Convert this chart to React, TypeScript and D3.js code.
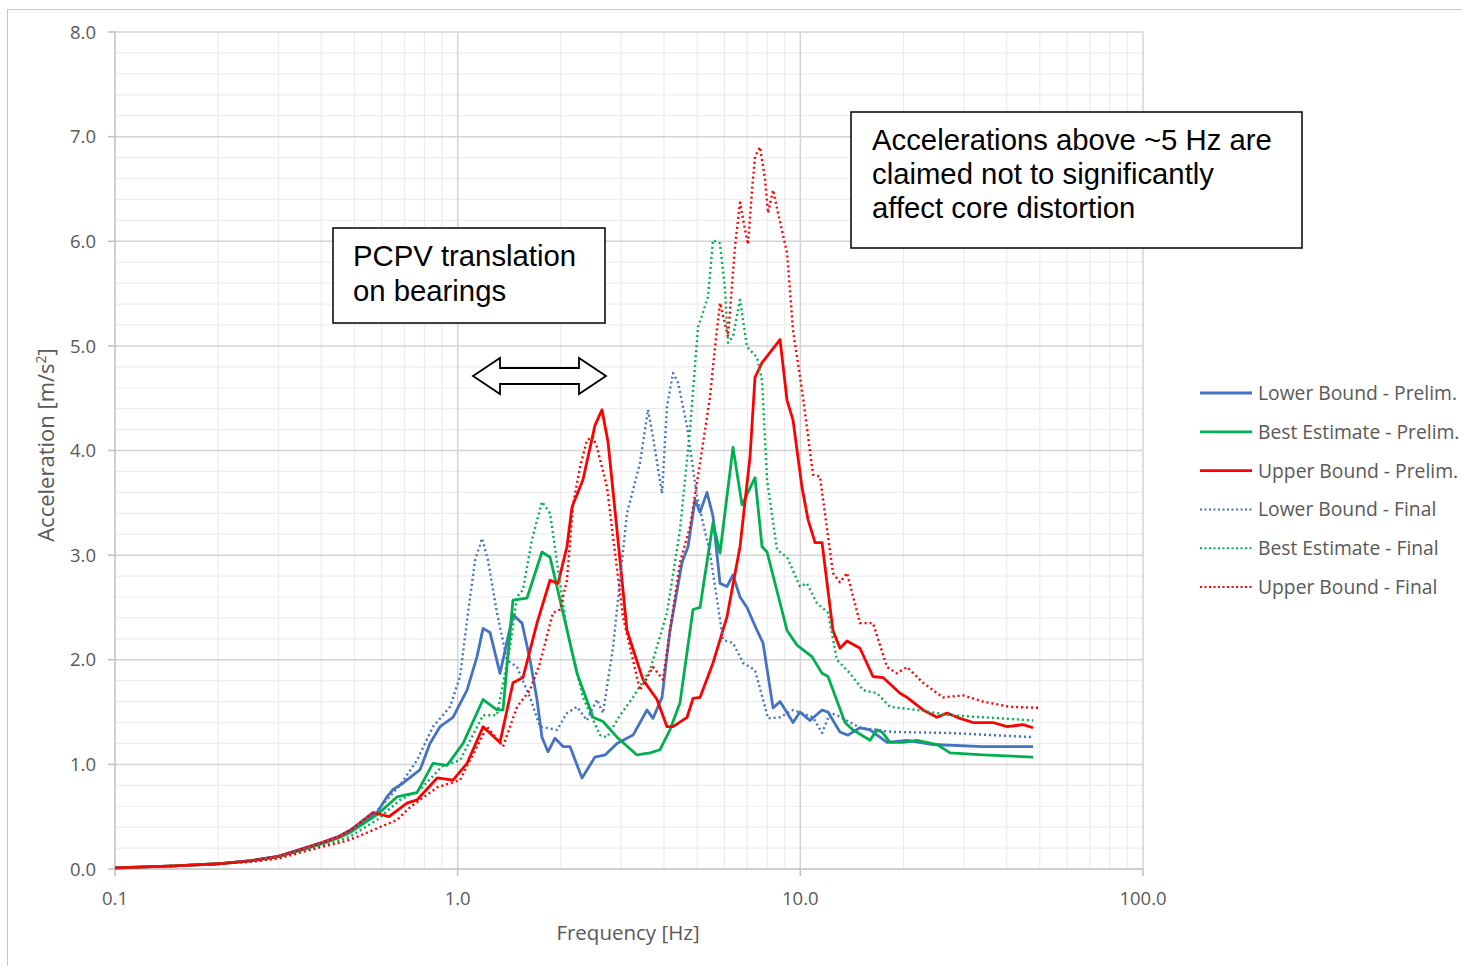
import React from "react";
import * as d3 from "d3";

type Pt = [number, number];

const lbPrelim: Pt[] = [
  [0.1, 0.01], [0.15, 0.03], [0.2, 0.05], [0.25, 0.08], [0.3, 0.12], [0.35, 0.19], [0.4, 0.25], [0.45, 0.31],
  [0.486, 0.37], [0.582, 0.54], [0.622, 0.69], [0.648, 0.76], [0.692, 0.82], [0.777, 0.95], [0.83, 1.2],
  [0.888, 1.36], [0.969, 1.45], [1.065, 1.71], [1.139, 2.03], [1.186, 2.3], [1.243, 2.26], [1.329, 1.87],
  [1.45, 2.43], [1.541, 2.35], [1.626, 2.0], [1.704, 1.62], [1.762, 1.26], [1.835, 1.12], [1.923, 1.25],
  [2.03, 1.17], [2.127, 1.17], [2.306, 0.87], [2.516, 1.07], [2.692, 1.09], [2.917, 1.2], [3.249, 1.28],
  [3.569, 1.52], [3.715, 1.44], [3.948, 1.64], [4.165, 2.28], [4.516, 2.93], [4.702, 3.08], [4.928, 3.53],
  [5.096, 3.41], [5.341, 3.6], [5.561, 3.37], [5.829, 2.73], [6.109, 2.7], [6.361, 2.81], [6.667, 2.6],
  [6.989, 2.5], [7.475, 2.28], [7.783, 2.16], [8.325, 1.54], [8.726, 1.6], [9.52, 1.4], [9.977, 1.5],
  [10.67, 1.42], [11.57, 1.52], [12.04, 1.5], [13.05, 1.31], [13.77, 1.28], [14.93, 1.35], [15.97, 1.33],
  [17.9, 1.21], [20.48, 1.23], [24.38, 1.19], [34.12, 1.17], [47.75, 1.17],
];

const bePrelim: Pt[] = [
  [0.1, 0.01], [0.15, 0.03], [0.2, 0.05], [0.25, 0.08], [0.3, 0.12], [0.35, 0.18], [0.4, 0.24], [0.45, 0.3],
  [0.486, 0.35], [0.582, 0.52], [0.666, 0.69], [0.711, 0.71], [0.761, 0.73], [0.847, 1.01], [0.931, 0.99],
  [1.037, 1.2], [1.186, 1.62], [1.302, 1.52], [1.356, 1.52], [1.45, 2.57], [1.594, 2.59], [1.762, 3.03],
  [1.86, 2.98], [2.03, 2.45], [2.23, 1.87], [2.483, 1.45], [2.655, 1.41], [2.917, 1.26], [3.337, 1.09],
  [3.642, 1.11], [3.895, 1.14], [4.165, 1.33], [4.455, 1.59], [4.862, 2.48], [5.096, 2.5], [5.561, 3.31],
  [5.829, 3.02], [6.361, 4.03], [6.758, 3.48], [7.375, 3.74], [7.731, 3.08], [7.996, 3.03], [9.145, 2.28],
  [9.779, 2.14], [10.81, 2.03], [11.57, 1.87], [12.04, 1.84], [13.5, 1.4], [14.24, 1.33], [15.97, 1.23],
  [16.74, 1.33], [17.31, 1.31], [18.26, 1.21], [19.94, 1.21], [21.9, 1.23], [25.05, 1.19], [27.34, 1.11],
  [34.12, 1.09], [47.75, 1.07],
];

const ubPrelim: Pt[] = [
  [0.1, 0.01], [0.15, 0.03], [0.2, 0.05], [0.25, 0.08], [0.3, 0.12], [0.35, 0.19], [0.4, 0.25], [0.45, 0.31],
  [0.486, 0.37], [0.566, 0.54], [0.63, 0.5], [0.711, 0.63], [0.761, 0.66], [0.871, 0.87], [0.969, 0.85],
  [1.065, 1.01], [1.186, 1.36], [1.329, 1.21], [1.45, 1.78], [1.551, 1.83], [1.704, 2.35], [1.86, 2.76],
  [1.963, 2.73], [2.084, 3.08], [2.156, 3.46], [2.321, 3.72], [2.516, 4.24], [2.637, 4.39], [2.747, 4.08],
  [2.917, 3.24], [3.12, 2.28], [3.474, 1.81], [3.817, 1.62], [4.082, 1.36], [4.25, 1.36], [4.671, 1.45],
  [4.862, 1.63], [5.096, 1.64], [5.561, 1.97], [6.109, 2.41], [6.667, 3.08], [7.131, 3.94], [7.375, 4.7],
  [7.731, 4.84], [8.726, 5.06], [9.145, 4.48], [9.52, 4.29], [10.11, 3.65], [10.53, 3.34], [11.04, 3.12],
  [11.57, 3.12], [12.45, 2.28], [13.05, 2.11], [13.68, 2.18], [14.93, 2.11], [16.29, 1.84], [17.43, 1.83],
  [19.54, 1.68], [20.48, 1.64], [22.8, 1.52], [25.05, 1.45], [26.79, 1.49], [29.24, 1.44], [31.9, 1.4],
  [36.49, 1.4], [40.1, 1.36], [44.65, 1.38], [47.75, 1.35],
];

const lbFinal: Pt[] = [
  [0.1, 0.01], [0.15, 0.03], [0.2, 0.05], [0.25, 0.08], [0.3, 0.12], [0.35, 0.19], [0.4, 0.25], [0.45, 0.31],
  [0.486, 0.37], [0.582, 0.56], [0.679, 0.8], [0.761, 1.04], [0.847, 1.36], [0.95, 1.55], [1.016, 1.84],
  [1.072, 2.45], [1.124, 2.95], [1.178, 3.16], [1.226, 2.95], [1.302, 2.45], [1.393, 2.0], [1.49, 1.93],
  [1.626, 1.64], [1.739, 1.36], [1.95, 1.33], [2.084, 1.49], [2.23, 1.55], [2.384, 1.42], [2.55, 1.62],
  [2.655, 1.49], [2.841, 2.12], [3.12, 3.4], [3.404, 3.88], [3.593, 4.39], [3.715, 4.13], [3.948, 3.59],
  [4.082, 4.42], [4.25, 4.74], [4.395, 4.65], [4.671, 4.23], [4.994, 3.56], [5.45, 3.02], [5.948, 2.19],
  [6.361, 2.16], [6.803, 1.97], [7.375, 1.9], [8.049, 1.44], [8.726, 1.45], [9.52, 1.52], [10.89, 1.45],
  [11.57, 1.3], [12.21, 1.49], [12.79, 1.47], [14.93, 1.35], [18.64, 1.31], [27.34, 1.3], [47.75, 1.26],
];

const beFinal: Pt[] = [
  [0.1, 0.01], [0.15, 0.03], [0.2, 0.05], [0.25, 0.07], [0.3, 0.11], [0.35, 0.17], [0.4, 0.22], [0.45, 0.27],
  [0.486, 0.31], [0.582, 0.47], [0.679, 0.66], [0.777, 0.76], [0.9, 0.98], [1.016, 1.04], [1.186, 1.47],
  [1.302, 1.47], [1.421, 2.12], [1.49, 2.6], [1.551, 2.67], [1.648, 3.15], [1.762, 3.51], [1.86, 3.4],
  [1.95, 2.93], [2.084, 2.28], [2.321, 1.64], [2.602, 1.28], [2.728, 1.26], [2.977, 1.47], [3.249, 1.64],
  [3.642, 1.9], [4.082, 2.45], [4.455, 3.24], [4.764, 4.2], [5.028, 5.18], [5.2, 5.32], [5.377, 5.47],
  [5.561, 6.01], [5.829, 5.98], [6.028, 5.54], [6.151, 5.03], [6.361, 5.09], [6.667, 5.44], [6.989, 4.99],
  [7.475, 4.89], [7.731, 4.67], [7.996, 3.72], [8.552, 3.05], [9.145, 2.98], [9.977, 2.7], [10.45, 2.73],
  [11.18, 2.54], [12.04, 2.45], [12.79, 2.0], [13.96, 1.87], [15.23, 1.71], [16.74, 1.68], [18.26, 1.55],
  [21.9, 1.52], [27.34, 1.47], [47.75, 1.42],
];

const ubFinal: Pt[] = [
  [0.1, 0.01], [0.15, 0.03], [0.2, 0.05], [0.25, 0.07], [0.3, 0.1], [0.35, 0.16], [0.4, 0.21], [0.45, 0.25],
  [0.486, 0.28], [0.666, 0.47], [0.726, 0.59], [0.871, 0.78], [1.016, 0.85], [1.086, 1.04], [1.139, 1.17],
  [1.218, 1.36], [1.356, 1.17], [1.49, 1.55], [1.626, 1.71], [1.739, 1.97], [1.897, 2.45], [1.989, 2.48],
  [2.084, 2.76], [2.171, 3.48], [2.275, 3.84], [2.384, 4.1], [2.483, 4.13], [2.55, 4.03], [2.728, 3.65],
  [2.841, 3.17], [3.037, 2.41], [3.404, 1.71], [3.715, 1.93], [3.974, 1.81], [4.165, 2.28], [4.455, 2.93],
  [4.764, 3.27], [5.096, 3.88], [5.45, 4.51], [5.636, 4.99], [5.829, 5.41], [6.151, 5.09], [6.447, 5.95],
  [6.667, 6.37], [6.896, 6.11], [7.036, 5.97], [7.228, 6.49], [7.375, 6.81], [7.628, 6.9], [7.889, 6.59],
  [8.049, 6.27], [8.325, 6.49], [8.609, 6.27], [9.145, 5.89], [9.52, 5.15], [10.18, 4.51], [10.89, 3.77],
  [11.41, 3.75], [12.45, 2.83], [13.05, 2.74], [13.68, 2.83], [14.93, 2.35], [16.29, 2.35], [17.9, 1.93],
  [19.14, 1.87], [20.48, 1.93], [22.8, 1.78], [26.08, 1.64], [29.83, 1.66], [34.12, 1.6], [40.92, 1.55],
  [50.06, 1.54],
];

const seriesNames = [
  "Lower Bound - Prelim.",
  "Best Estimate - Prelim.",
  "Upper Bound - Prelim.",
  "Lower Bound - Final",
  "Best Estimate - Final",
  "Upper Bound - Final",
];
const seriesData = [lbPrelim, bePrelim, ubPrelim, lbFinal, beFinal, ubFinal];
const seriesColors = ["#4472C4", "#00B050", "#FF0000", "#4472C4", "#00B050", "#FF0000"];
const seriesDotted = [false, false, false, true, true, true];

const xTicks = [0.1, 1, 10, 100];
const yTicks = [0, 1, 2, 3, 4, 5, 6, 7, 8];

const annotation1 = ["PCPV translation", "on bearings"];
const annotation2 = ["Accelerations above ~5 Hz are", "claimed not to significantly", "affect core distortion"];

export default function App() {
  const W = 1462, H = 966;
  const x = d3.scaleLog().domain([0.1, 100]).range([115, 1143]);
  const y = d3.scaleLinear().domain([0, 8]).range([869, 32]);
  const line = d3.line<Pt>().x((d) => x(d[0])).y((d) => y(d[1]));

  const minorX: number[] = [];
  for (const dec of [0.1, 1, 10]) for (let k = 2; k <= 9; k++) minorX.push(dec * k);
  const minorY: number[] = d3.range(0, 8.0001, 0.2).filter((v) => Math.abs(v - Math.round(v)) > 1e-6);

  const tickFont = "'Open Sans', 'DejaVu Sans', sans-serif";
  const gray = "#595959";
  const boxFont = "'Liberation Sans', Arial, sans-serif";

  // arrow polygon
  const ax0 = 473, ax1 = 606, ay = 376;
  const arrowPts = [
    [ax0, ay], [500, ay - 18], [500, ay - 8], [579, ay - 8], [579, ay - 18], [ax1, ay],
    [579, ay + 18], [579, ay + 8], [500, ay + 8], [500, ay + 18],
  ].map((p) => p.join(",")).join(" ");

  return (
    <svg width={W} height={H} style={{ position: "absolute", left: 0, top: 0, background: "#fff" }}>
      <rect x={0} y={0} width={W} height={H} fill="#fff" />
      <rect x={7.5} y={9.5} width={1480} height={990} fill="#fff" stroke="#c8c8c8" strokeWidth={1} />
      {/* minor grid */}
      {minorY.map((v, i) => (
        <line key={"my" + i} x1={115} x2={1143} y1={y(v)} y2={y(v)} stroke="#eeeeee" strokeWidth={1.2} />
      ))}
      {minorX.map((v, i) => (
        <line key={"mx" + i} x1={x(v)} x2={x(v)} y1={32} y2={869} stroke="#ececec" strokeWidth={1.2} />
      ))}
      {/* major grid */}
      {yTicks.slice(1).map((v) => (
        <line key={"gy" + v} x1={115} x2={1143} y1={y(v)} y2={y(v)} stroke="#d4d4d4" strokeWidth={1.5} />
      ))}
      {xTicks.slice(1).map((v) => (
        <line key={"gx" + v} x1={x(v)} x2={x(v)} y1={32} y2={869} stroke="#d4d4d4" strokeWidth={1.5} />
      ))}
      {/* axes */}
      <line x1={115} x2={115} y1={32} y2={869} stroke="#bfbfbf" strokeWidth={1.5} />
      <line x1={115} x2={1143} y1={869} y2={869} stroke="#bfbfbf" strokeWidth={1.5} />
      {yTicks.map((v) => (
        <line key={"ty" + v} x1={108} x2={115} y1={y(v)} y2={y(v)} stroke="#bfbfbf" strokeWidth={1.5} />
      ))}
      {xTicks.map((v) => (
        <line key={"tx" + v} x1={x(v)} x2={x(v)} y1={869} y2={876} stroke="#bfbfbf" strokeWidth={1.5} />
      ))}
      {yTicks.map((v) => (
        <text key={"ly" + v} x={96} y={y(v)} dy="0.36em" textAnchor="end" fontFamily={tickFont} fontSize={18.5} fill={gray}>
          {v.toFixed(1)}
        </text>
      ))}
      {xTicks.map((v) => (
        <text key={"lx" + v} x={x(v)} y={905} textAnchor="middle" fontFamily={tickFont} fontSize={18.5} fill={gray}>
          {v.toFixed(1)}
        </text>
      ))}
      <text x={628} y={940} textAnchor="middle" fontFamily={tickFont} fontSize={20.5} fill={gray}>
        Frequency [Hz]
      </text>
      <text transform="translate(54,445) rotate(-90)" textAnchor="middle" fontFamily={tickFont} fontSize={22} fill={gray}>
        Acceleration [m/s<tspan dy={-8} fontSize={14}>2</tspan><tspan dy={8}>]</tspan>
      </text>

      {/* series */}
      {seriesData.map((d, i) => (
        <path
          key={"s" + i}
          d={line(d) || ""}
          fill="none"
          stroke={seriesColors[i]}
          strokeWidth={seriesDotted[i] ? 2.4 : 2.8}
          strokeDasharray={seriesDotted[i] ? "2 3" : undefined}
          strokeLinejoin="round"
        />
      ))}

      {/* legend */}
      {seriesNames.map((n, i) => {
        const ly = 393 + i * 38.8;
        return (
          <g key={"lg" + i}>
            <line x1={1200} x2={1252} y1={ly} y2={ly} stroke={seriesColors[i]}
              strokeWidth={seriesDotted[i] ? 2 : 2.8} strokeDasharray={seriesDotted[i] ? "2 2.5" : undefined} />
            <text x={1258} y={ly} dy="0.36em" fontFamily={tickFont} fontSize={19.3} fill={gray}>{n}</text>
          </g>
        );
      })}

      {/* annotations */}
      <rect x={333} y={228} width={272} height={95} fill="#fff" stroke="#000" strokeWidth={1.5} />
      {annotation1.map((t, i) => (
        <text key={"a1" + i} x={353} y={266 + i * 34.5} fontFamily={boxFont} fontSize={29.3} fill="#000">{t}</text>
      ))}
      <rect x={851} y={112} width={451} height={136} fill="#fff" stroke="#000" strokeWidth={1.5} />
      {annotation2.map((t, i) => (
        <text key={"a2" + i} x={872} y={150 + i * 34} fontFamily={boxFont} fontSize={29.3} fill="#000">{t}</text>
      ))}
      <polygon points={arrowPts} fill="#fff" stroke="#000" strokeWidth={1.8} strokeLinejoin="miter" />
    </svg>
  );
}
